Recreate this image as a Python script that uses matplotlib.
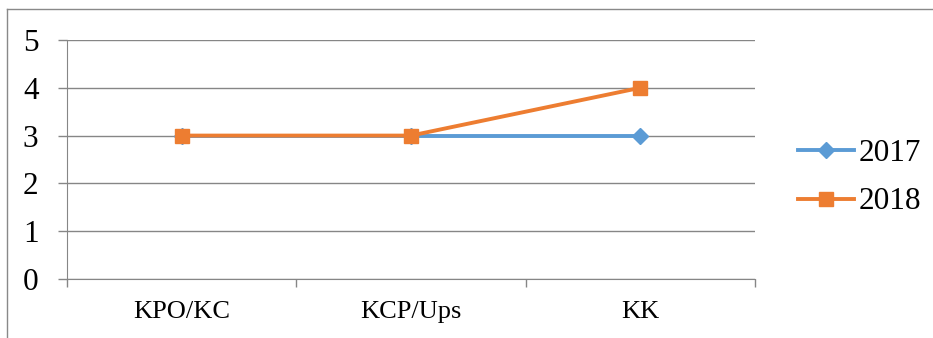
import matplotlib.pyplot as plt
from matplotlib.lines import Line2D
import numpy as np

categories = ["KPO/KC", "KCP/Ups", "KK"]
values_2017 = [3, 3, 3]
values_2018 = [3, 3, 4]

plt.rcParams['font.family'] = ['Liberation Serif', 'DejaVu Serif']

fig = plt.figure(figsize=(9.33, 3.38), dpi=100)
ax = fig.add_axes([0.0718, 0.1746, 0.7374, 0.7071])

x = np.arange(len(categories))
ax.plot(x, values_2017, color="#5B9BD5", lw=2.8, marker="D", ms=8,
        label="2017", zorder=3)
ax.plot(x, values_2018, color="#ED7D31", lw=2.8, marker="s", ms=10.5,
        label="2018", zorder=4)

ax.set_xlim(-0.5, len(categories) - 0.5)
ax.set_ylim(0, 5)
ax.set_yticks(range(6))
ax.grid(axis="y", color="#868686", lw=1)
ax.set_axisbelow(True)

# category labels in the middle, tick marks on the boundaries
ax.set_xticks(x)
ax.set_xticklabels(categories, fontsize=19)
ax.set_xticks(np.arange(-0.5, len(categories)), minor=True)
ax.tick_params(axis="x", which="major", length=0, pad=16)
ax.tick_params(axis="x", which="minor", length=6, color="#868686", width=1)
ax.tick_params(axis="y", length=6.5, color="#868686", width=1, labelsize=22.5, pad=14)

for side in ["top", "right"]:
    ax.spines[side].set_visible(False)
ax.spines["left"].set_color("#868686")
ax.spines["bottom"].set_color("#868686")

fig.legend(loc="center left", bbox_to_anchor=(0.842, 0.474), frameon=False,
           fontsize=22.5, handlelength=1.8, handletextpad=0.15, labelspacing=0.62,
           borderaxespad=0)

# outer chart border (left and top edges)
fig.add_artist(Line2D([0.0075, 0.0075], [0, 0.973], color="#898989", lw=1))
fig.add_artist(Line2D([0.0075, 1], [0.973, 0.973], color="#898989", lw=1))

fig.savefig("out.png", dpi=100)
